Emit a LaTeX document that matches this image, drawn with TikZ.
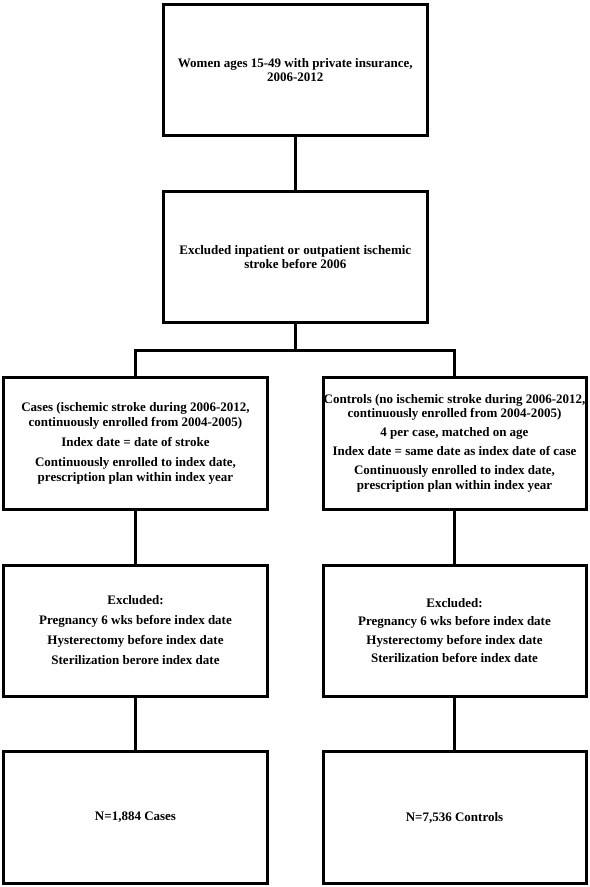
\documentclass[tikz,border=0pt]{standalone}
\usepackage{fontspec}
\setmainfont{Liberation Serif}
\begin{document}
\begin{tikzpicture}[x=1bp,y=-1bp,
  box/.style={draw=black, fill=white, line width=3bp, minimum width=#1,
    inner sep=0pt, align=center, font=\bfseries\fontsize{13bp}{14bp}\selectfont},
  box/.default=264bp,
  link/.style={draw=black, line width=3bp}]
\useasboundingbox (0,0) rectangle (590,887);
\fill[white] (0,0) rectangle (590,887);

\node[box=264bp, minimum height=131.7bp] (pop) at (295.3,70)
  {Women ages 15-49 with private insurance,\\2006-2012};
\node[box=264bp, minimum height=131bp] (excl) at (295.3,257)
  {Excluded inpatient or outpatient ischemic\\stroke before 2006};

\node[box=263bp, minimum height=132.5bp, font=\bfseries\fontsize{13bp}{15bp}\selectfont] (cases) at (135.5,443.3)
  {Cases (ischemic stroke during 2006-2012,\\continuously enrolled from 2004-2005)\\[5bp]
   Index date = date of stroke\\[5bp]
   Continuously enrolled to index date,\\prescription plan within index year};
\node[box=263bp, minimum height=132.5bp, font=\bfseries\fontsize{13bp}{14.5bp}\selectfont] (controls) at (454.5,443.3)
  {Controls (no ischemic stroke during 2006-2012,\\continuously enrolled from 2004-2005)\\[4.5bp]
   4 per case, matched on age\\[4.5bp]
   Index date = same date as index date of case\\[4.5bp]
   Continuously enrolled to index date,\\prescription plan within index year};

\node[box=263bp, minimum height=131bp] (exca) at (135.5,630.5)
  {Excluded:\\[6bp]Pregnancy 6 wks before index date\\[6bp]
   Hysterectomy before index date\\[6bp]Sterilization berore index date};
\node[box=263bp, minimum height=131bp] (excc) at (454.5,630.5)
  {Excluded:\\[4.5bp]Pregnancy 6 wks before index date\\[4.5bp]
   Hysterectomy before index date\\[4.5bp]Sterilization before index date};

\node[box=263bp, minimum height=132bp] (ncases) at (135.5,817.5) {N=1,884 Cases};
\node[box=263bp, minimum height=132bp] (ncontrols) at (454.5,817.5) {N=7,536 Controls};

\coordinate (split) at (295.3,350);

\draw[link] (pop.south) -- (excl.north);
\draw[link] (excl.south) -- (split);
\draw[link] (cases.north) |- (split) -| (controls.north);
\draw[link] (cases.south) -- (exca.north);
\draw[link] (controls.south) -- (excc.north);
\draw[link] (exca.south) -- (ncases.north);
\draw[link] (excc.south) -- (ncontrols.north);
\end{tikzpicture}
\end{document}
